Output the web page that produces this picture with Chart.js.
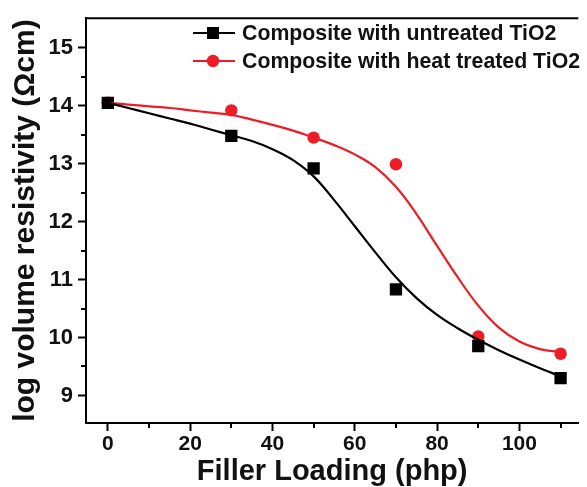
<!DOCTYPE html>
<html>
<head>
<meta charset="utf-8">
<script src="https://cdn.jsdelivr.net/npm/chart.js@4/dist/chart.umd.min.js"></script>
<style>
  html, body { margin: 0; padding: 0; background: #fff; }
  #wrap { width: 587px; height: 487px; }
</style>
</head>
<body>
<div id="wrap"><canvas id="myChart" width="587" height="487"></canvas></div>
<script>
// ---------------- data ----------------
var loading = [0, 30, 50, 70, 90, 110];
var untreated = [14.05, 13.48, 12.92, 10.83, 9.85, 9.30];
var heatTreated = [14.05, 13.92, 13.45, 12.99, 10.02, 9.72];

// fitted curves, every 5 php
var fitX = [0, 5, 10, 15, 20, 25, 30, 35, 40, 45, 50, 55, 60, 65, 70, 75, 80, 85, 90, 95, 100, 105, 110];
var fitUntreated = [14.05, 13.96, 13.87, 13.78, 13.69, 13.59, 13.49, 13.39, 13.25, 13.06, 12.78, 12.37, 11.92, 11.47, 11.04, 10.68, 10.39, 10.16, 9.96, 9.78, 9.62, 9.47, 9.33];
var fitHeat = [14.05, 14.02, 13.99, 13.96, 13.92, 13.88, 13.84, 13.76, 13.67, 13.57, 13.45, 13.32, 13.16, 12.94, 12.60, 12.13, 11.58, 11.04, 10.55, 10.17, 9.93, 9.80, 9.75];

var xTicks = [0, 10, 20, 30, 40, 50, 60, 70, 80, 90, 100, 110];
var yTicks = [9, 9.5, 10, 10.5, 11, 11.5, 12, 12.5, 13, 13.5, 14, 14.5, 15];

var seriesLabels = ['Composite with untreated TiO2', 'Composite with heat treated TiO2'];
var seriesColors = ['#000000', '#ee1c25'];

function toPoints(xs, ys) {
    return xs.map(function (x, i) { return { x: x, y: ys[i] }; });
}

var FONT = '"Liberation Sans", Arial, sans-serif';

// top frame line + minor tick marks
var framePlugin = {
    id: 'frame',
    afterDraw: function (chart) {
        var ctx = chart.ctx, a = chart.chartArea;
        var xs = chart.scales.x, ys = chart.scales.y;
        ctx.save();
        ctx.strokeStyle = '#000';
        ctx.lineWidth = 2;
        ctx.beginPath();
        ctx.moveTo(a.left - 1, a.top);
        ctx.lineTo(a.right, a.top);
        ctx.stroke();
        // minor ticks
        xTicks.forEach(function (v) {
            if (v % 20 === 0) return;
            var px = Math.round(xs.getPixelForValue(v));
            ctx.beginPath();
            ctx.moveTo(px, a.bottom);
            ctx.lineTo(px, a.bottom + 5);
            ctx.stroke();
        });
        yTicks.forEach(function (v) {
            if (v % 1 === 0) return;
            var py = Math.round(ys.getPixelForValue(v));
            ctx.beginPath();
            ctx.moveTo(a.left, py);
            ctx.lineTo(a.left - 5, py);
            ctx.stroke();
        });
        ctx.restore();
    }
};

// legend drawn inside the plot
var legendPlugin = {
    id: 'insideLegend',
    afterDraw: function (chart) {
        var ctx = chart.ctx;
        var rows = [33, 61];
        ctx.save();
        rows.forEach(function (y, i) {
            var c = seriesColors[i];
            ctx.strokeStyle = c;
            ctx.fillStyle = c;
            ctx.lineWidth = 2.2;
            ctx.beginPath();
            ctx.moveTo(193, y);
            ctx.lineTo(235, y);
            ctx.stroke();
            if (i === 0) {
                ctx.fillRect(207, y - 6, 12, 12);
            } else {
                ctx.beginPath();
                ctx.arc(213, y, 6.2, 0, Math.PI * 2);
                ctx.fill();
            }
            ctx.fillStyle = '#111';
            ctx.font = 'bold 21.3px ' + FONT;
            ctx.textBaseline = 'middle';
            ctx.fillText(seriesLabels[i], 242, y + 1);
        });
        ctx.restore();
    }
};

new Chart('myChart', {
    type: 'scatter',
    data: {
        datasets: [
            {
                label: seriesLabels[0] + ' fit',
                data: toPoints(fitX, fitUntreated),
                showLine: true,
                borderColor: seriesColors[0],
                borderWidth: 2.2,
                pointRadius: 0,
                tension: 0.4
            },
            {
                label: seriesLabels[1] + ' fit',
                data: toPoints(fitX, fitHeat),
                showLine: true,
                borderColor: seriesColors[1],
                borderWidth: 2.2,
                pointRadius: 0,
                tension: 0.4
            },
            {
                label: seriesLabels[0],
                data: toPoints(loading, untreated),
                pointStyle: 'rect',
                pointRadius: 8.7,
                backgroundColor: seriesColors[0],
                borderColor: seriesColors[0],
                borderWidth: 0
            },
            {
                label: seriesLabels[1],
                data: toPoints(loading, heatTreated),
                pointStyle: 'circle',
                pointRadius: 6.2,
                backgroundColor: seriesColors[1],
                borderColor: seriesColors[1],
                borderWidth: 0
            }
        ]
    },
    options: {
        responsive: false,
        animation: false,
        layout: { padding: { left: 0, top: 16, right: 0, bottom: 0 } },
        plugins: {
            legend: { display: false },
            tooltip: { enabled: false }
        },
        scales: {
            x: {
                type: 'linear',
                min: -5.3,
                max: 114.3,
                afterFit: function (s) { s.height = 64; },
                afterBuildTicks: function (s) { s.ticks = xTicks.map(function (v) { return { value: v }; }); },
                border: { display: true, color: '#000', width: 2 },
                grid: {
                    drawOnChartArea: false,
                    tickLength: 8,
                    tickWidth: 2,
                    tickColor: function (c) { return c.tick && c.tick.value % 20 === 0 ? '#000' : 'rgba(0,0,0,0)'; }
                },
                ticks: {
                    color: '#111',
                    font: { family: FONT, size: 21, weight: 'bold' },
                    padding: 1,
                    maxRotation: 0,
                    autoSkip: false,
                    callback: function (v) { return v % 20 === 0 ? v : ''; }
                },
                title: {
                    display: true,
                    text: 'Filler Loading (php)',
                    color: '#111',
                    font: { family: FONT, size: 29, weight: 'bold' },
                    padding: { top: 0, bottom: -2 }
                }
            },
            y: {
                type: 'linear',
                min: 8.525,
                max: 15.51,
                afterFit: function (s) { s.width = 86; },
                afterBuildTicks: function (s) { s.ticks = yTicks.map(function (v) { return { value: v }; }); },
                border: { display: true, color: '#000', width: 2 },
                grid: {
                    drawOnChartArea: false,
                    tickLength: 8,
                    tickWidth: 2,
                    tickColor: function (c) { return c.tick && c.tick.value % 1 === 0 ? '#000' : 'rgba(0,0,0,0)'; }
                },
                ticks: {
                    color: '#111',
                    font: { family: FONT, size: 22, weight: 'bold' },
                    padding: 5,
                    autoSkip: false,
                    callback: function (v) { return v % 1 === 0 ? v : ''; }
                },
                title: {
                    display: true,
                    text: 'log volume resistivity (\u03A9cm)',
                    color: '#111',
                    font: { family: FONT, size: 30, weight: 'bold' },
                    padding: { top: 8, bottom: 0 }
                }
            }
        }
    },
    plugins: [framePlugin, legendPlugin]
});
</script>
</body>
</html>
